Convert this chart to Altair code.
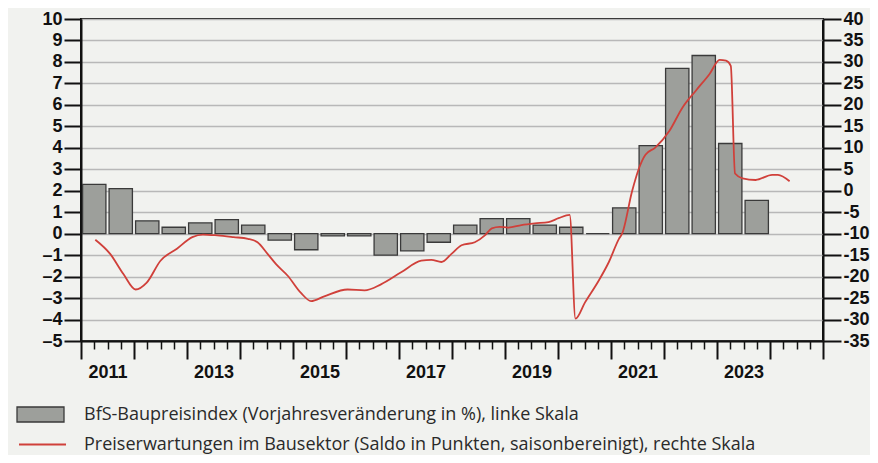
import altair as alt
import pandas as pd

# ---- data ----
bar_label = "BfS-Baupreisindex (Vorjahresveränderung in %), linke Skala"
line_label = "Preiserwartungen im Bausektor (Saldo in Punkten, saisonbereinigt), rechte Skala"

bar_years = [2011, 2011, 2012, 2012, 2013, 2013, 2014, 2014, 2015, 2015, 2016, 2016, 2017,
             2017, 2018, 2018, 2019, 2019, 2020, 2020, 2021, 2021, 2022, 2022, 2023, 2023]
bar_halves = [1, 2] * 13
bar_values = [2.3, 2.1, 0.6, 0.3, 0.5, 0.65, 0.4, -0.3, -0.75, -0.1, -0.1, -1.0, -0.8,
              -0.4, 0.4, 0.7, 0.7, 0.4, 0.3, 0.0, 1.2, 4.1, 7.7, 8.3, 4.2, 1.55]

line_time = [2011.27, 2011.55, 2011.80, 2012.03, 2012.24, 2012.50, 2012.81, 2013.10, 2013.30,
             2013.57, 2013.88, 2014.15, 2014.33, 2014.52, 2014.68, 2014.90, 2015.15, 2015.34,
             2015.59, 2016.03, 2016.35, 2016.66, 2017.04, 2017.42, 2017.61, 2017.80, 2017.99,
             2018.18, 2018.43, 2018.62, 2018.75, 2018.90, 2019.06, 2019.31, 2019.56, 2019.82,
             2020.01, 2020.22, 2020.33, 2020.51, 2020.77, 2020.96, 2021.15, 2021.21, 2021.40,
             2021.53, 2021.65, 2021.83, 2022.10, 2022.35, 2022.60, 2022.86, 2023.05, 2023.17,
             2023.26, 2023.34, 2023.48, 2023.73, 2024.04, 2024.15, 2024.37]
line_value = [-11.4, -14.7, -19.4, -23.0, -21.4, -16.3, -13.5, -10.8, -10.2,
              -10.4, -10.8, -11.2, -12.0, -14.7, -17.1, -19.8, -23.8, -25.7,
              -24.6, -23.0, -23.2, -21.8, -19.0, -16.3, -16.1, -16.6, -14.7,
              -12.7, -12.0, -10.4, -8.75, -8.4, -8.6, -8.0, -7.6, -7.3,
              -6.4, -5.6, -29.8, -26.0, -20.9, -16.6, -11.2, -10.0, 0.0,
              5.3, 8.4, 10.0, 13.9, 19.4, 23.3, 27.2, 30.5, 30.3,
              29.1, 4.0, 2.9, 2.5, 3.7, 3.7, 2.2]

left_ticks = list(range(-5, 11))
right_ticks = list(range(-35, 41, 5))
x_ticks = [2011 + q / 4 for q in range(0, 57)]

# ---- tables ----
bar_df = pd.DataFrame({
    "year": bar_years, "half": bar_halves, "value": bar_values,
})
bar_df["x0"] = bar_df["year"] + (bar_df["half"] - 1) * 0.5 + 0.03
bar_df["x1"] = bar_df["year"] + bar_df["half"] * 0.5 - 0.03
bar_df["series"] = bar_label

line_df = pd.DataFrame({"t": line_time, "v": line_value, "series": line_label})

AXIS_FONT = "Liberation Sans"
neg_expr_left = "datum.value < 0 ? '–' + abs(datum.value) : '' + datum.value"
neg_expr_right = "datum.value < 0 ? '-' + abs(datum.value) : '' + datum.value"

x_scale = alt.Scale(domain=[2011, 2025], nice=False, zero=False)
x_axis = alt.Axis(
    values=x_ticks, title=None, grid=False,
    domainColor="#111", domainWidth=2,
    tickColor="#111",
    tickSize={"condition": {"test": "datum.value % 1 === 0", "value": 18}, "value": 8},
    tickWidth={"condition": {"test": "datum.value % 1 === 0", "value": 2}, "value": 1.5},
    labelExpr="datum.value % 2 === 1.5 ? '' + floor(datum.value) : ''",
    labelOverlap=False, labelFont=AXIS_FONT, labelFontSize=18, labelFontWeight="bold",
    labelColor="#111", labelPadding=14, labelFlush=False,
)

bars = alt.Chart(bar_df).mark_bar(stroke="#3a3a3a", strokeWidth=1.3).encode(
    x=alt.X("x0:Q", scale=x_scale, axis=x_axis),
    x2="x1:Q",
    y=alt.Y("value:Q", scale=alt.Scale(domain=[-5, 10], nice=False),
            axis=alt.Axis(values=left_ticks, title=None, grid=True,
                          gridColor="#b8b8b8", gridWidth=1.5,
                          domainColor="#111", domainWidth=2,
                          tickColor="#111", tickSize=17, tickWidth=2,
                          labelExpr=neg_expr_left, labelFont=AXIS_FONT, labelFontSize=18,
                          labelFontWeight="bold", labelColor="#111", labelPadding=2)),
    y2=alt.datum(0),
    fill=alt.Fill("series:N", scale=alt.Scale(domain=[bar_label], range=["#9d9f9b"]),
                  legend=alt.Legend(title=None, orient="none", legendX=-65, legendY=371,
                                    symbolType="M-1,-0.32H1V0.32H-1Z", symbolSize=2209,
                                    symbolStrokeColor="#3a3a3a", symbolStrokeWidth=1.3,
                                    symbolOpacity=1, labelOffset=19, labelLimit=0,
                                    labelFont="Open Sans", labelFontSize=18,
                                    labelColor="#2a2a2a", padding=0)),
)

line = alt.Chart(line_df).mark_line(strokeWidth=1.8, interpolate="monotone").encode(
    x=alt.X("t:Q", scale=x_scale, axis=x_axis),
    y=alt.Y("v:Q", scale=alt.Scale(domain=[-35, 40], nice=False),
            axis=alt.Axis(orient="right", values=right_ticks, title=None, grid=False,
                          domainColor="#111", domainWidth=2,
                          tickColor="#111", tickSize=18, tickWidth=2,
                          labelExpr=neg_expr_right, labelFont=AXIS_FONT, labelFontSize=18,
                          labelFontWeight="bold", labelColor="#111", labelPadding=2)),
    stroke=alt.Stroke("series:N", scale=alt.Scale(domain=[line_label], range=["#d0403a"]),
                      legend=alt.Legend(title=None, orient="none", legendX=-63, legendY=401,
                                        symbolType="stroke", symbolSize=2209,
                                        symbolStrokeWidth=2, labelOffset=17, labelLimit=0,
                                        labelFont="Open Sans", labelFontSize=18,
                                        labelColor="#2a2a2a", padding=0)),
)

chart = alt.layer(bars, line).resolve_scale(y="independent").properties(
    width=742, height=322,
    autosize=alt.AutoSizeParams(type="none"),
    padding={"left": 73, "top": 11, "right": 47, "bottom": 114},
    background="#f1f2ef",
).configure_view(stroke="#111", strokeWidth=2)

chart.save("out.html", embed_options={"renderer": "svg", "actions": False})
